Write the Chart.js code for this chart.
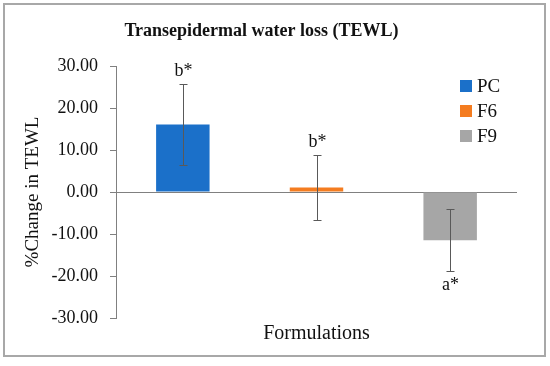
<!DOCTYPE html>
<html>
<head>
<meta charset="utf-8">
<script src="https://cdn.jsdelivr.net/npm/chart.js@4"></script>
<style>
  html, body { margin: 0; padding: 0; background: #fff; }
  #wrap { width: 550px; height: 366px; }
</style>
</head>
<body>
<div id="wrap"><canvas id="tewl-chart" width="550" height="366"></canvas></div>
<script>
// Dati
var formulazioni = ['PC', 'F6', 'F9'];
var tewl_media = [16.1, 1.1, -11.5];
var tewl_errore = [9.6, 7.7, 7.4];
var lettere = ['b*', 'b*', 'a*'];
var colori = ['#1B70C9', '#F47C20', '#A6A6A6'];
var y_ticks = [-30, -20, -10, 0, 10, 20, 30];

var FONT = '"Liberation Serif", "Times New Roman", serif';

// barre di errore + lettere
var erroriPlugin = {
	id: 'errori',
	afterDatasetsDraw: function(chart) {
		var ctx = chart.ctx, y = chart.scales.y;
		var meta = chart.getDatasetMeta(0);
		ctx.save();
		ctx.strokeStyle = '#595959';
		ctx.lineWidth = 1;
		ctx.fillStyle = '#111';
		ctx.font = '18px ' + FONT;
		ctx.textAlign = 'center';
		meta.data.forEach(function(bar, i) {
			var x = Math.round(bar.x) + 0.5;
			var top = Math.round(y.getPixelForValue(tewl_media[i] + tewl_errore[i])) + 0.5;
			var bot = Math.round(y.getPixelForValue(tewl_media[i] - tewl_errore[i])) + 0.5;
			ctx.beginPath();
			ctx.moveTo(x, top); ctx.lineTo(x, bot);
			ctx.moveTo(x - 4, top); ctx.lineTo(x + 4, top);
			ctx.moveTo(x - 4, bot); ctx.lineTo(x + 4, bot);
			ctx.stroke();
			if (tewl_media[i] >= 0) {
				ctx.textBaseline = 'bottom';
				ctx.fillText(lettere[i], x, top - 4);
			} else {
				ctx.textBaseline = 'top';
				ctx.fillText(lettere[i], x, bot + 5);
			}
		});
		ctx.restore();
	}
};

// legenda a destra + bordo
var legendaPlugin = {
	id: 'legenda',
	afterDraw: function(chart) {
		var ctx = chart.ctx, area = chart.chartArea;
		ctx.save();
		ctx.font = '19px ' + FONT;
		ctx.textBaseline = 'middle';
		ctx.textAlign = 'left';
		formulazioni.forEach(function(nome, i) {
			var cy = area.top + 20 + i * 25;
			ctx.fillStyle = colori[i];
			ctx.fillRect(area.right - 57, cy - 6, 12, 12);
			ctx.fillStyle = '#111';
			ctx.fillText(nome, area.right - 40, cy + 1);
		});
		ctx.strokeStyle = '#a8a8a8';
		ctx.lineWidth = 2;
		ctx.strokeRect(4, 4, 541, 352);
		ctx.restore();
	}
};

var ctx = document.getElementById('tewl-chart').getContext('2d');
var myChart = new Chart(ctx, {
	type: 'bar',
	data: {
		labels: formulazioni,
		datasets: [{
			label: 'TEWL',
			backgroundColor: colori,
			borderWidth: 0,
			data: tewl_media,
			barPercentage: 0.4,
			categoryPercentage: 1
		}]
	},
	plugins: [erroriPlugin, legendaPlugin],
	options: {
		responsive: false,
		animation: false,
		devicePixelRatio: 1,
		layout: { padding: { top: 0, left: 6, right: 33, bottom: 0 } },
		plugins: {
			legend: { display: false },
			tooltip: { enabled: false },
			title: {
				display: true,
				text: 'Transepidermal water loss (TEWL)',
				color: '#111',
				font: { family: FONT, size: 18, weight: 'bold' },
				padding: { top: 20.2, bottom: 24.2 }
			}
		},
		scales: {
			x: {
				grid: { display: false, drawTicks: false },
				border: { display: false },
				ticks: { display: false },
				title: {
					display: true,
					text: 'Formulations',
					color: '#111',
					font: { family: FONT, size: 20 },
					padding: { top: 4, bottom: 20 }
				},
				afterFit: function(scale) { scale.height = 48; }
			},
			y: {
				min: y_ticks[0],
				max: y_ticks[y_ticks.length - 1],
				afterBuildTicks: function(scale) {
					scale.ticks = y_ticks.map(function(v) { return { value: v }; });
				},
				ticks: {
					color: '#111',
					padding: 12,
					font: { family: FONT, size: 18 },
					callback: function(v) { return Number(v).toFixed(2); }
				},
				grid: {
					drawOnChartArea: true,
					tickLength: 6,
					tickColor: '#808080',
					color: function(c) { return c.tick && c.tick.value === 0 ? '#808080' : 'rgba(0,0,0,0)'; }
				},
				border: { display: true, color: '#808080' },
				title: {
					display: true,
					text: '%Change in TEWL',
					color: '#111',
					font: { family: FONT, size: 19 },
					padding: { top: 15.6, bottom: 0 }
				},
				afterFit: function(scale) { scale.width = 110; }
			}
		}
	}
});
</script>
</body>
</html>
